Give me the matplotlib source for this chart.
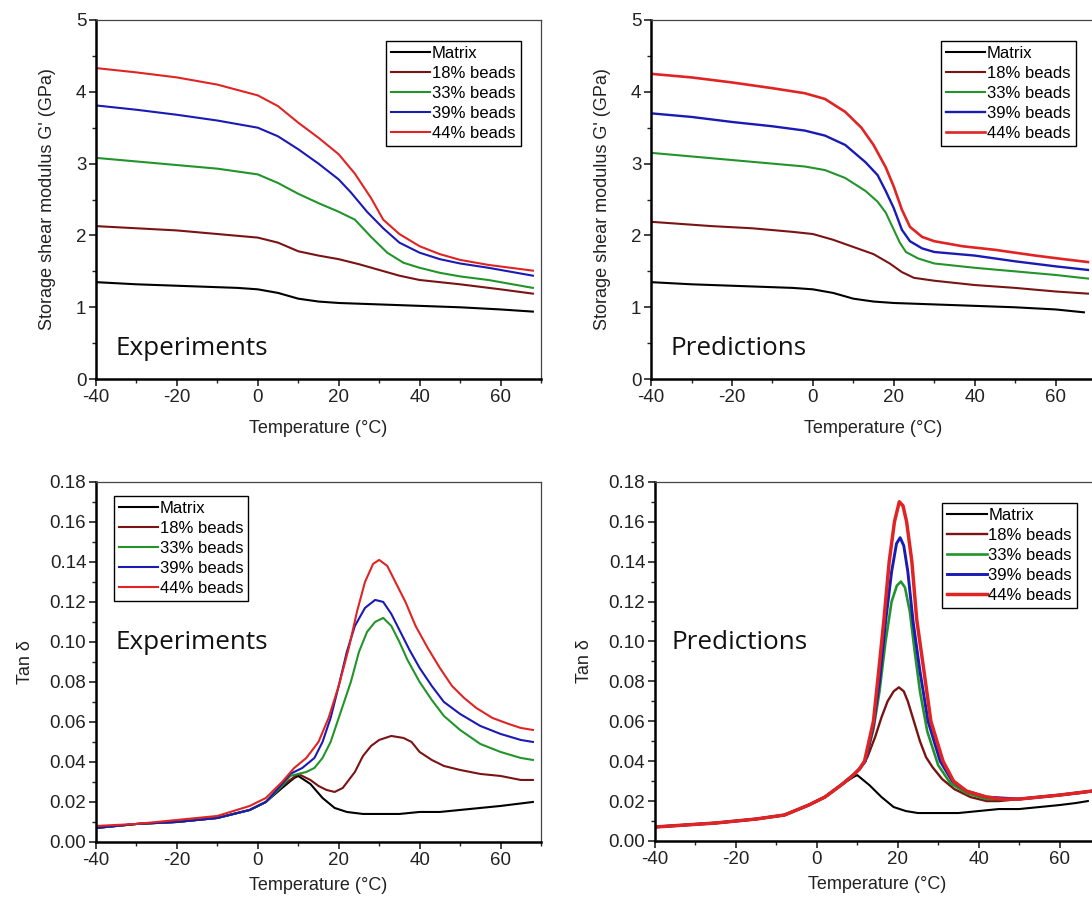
import numpy as np
import matplotlib
matplotlib.use("Agg")
import matplotlib.pyplot as plt
from matplotlib.ticker import MultipleLocator

plt.rcParams['font.family'] = ['Liberation Sans', 'DejaVu Sans']
plt.rcParams['axes.unicode_minus'] = False

labels = ["Matrix", "18% beads", "33% beads", "39% beads", "44% beads"]
colors = ["#000000", "#7a1414", "#22942a", "#1a1ab4", "#e02424"]

# ---- storage modulus, experiments (T in degC, G' in GPa)
ge_t = {
    "Matrix": [-40, -30, -20, -10, -5, 0, 5, 10, 15, 20, 30, 40, 50, 60, 68],
    "18% beads": [-40, -30, -20, -10, 0, 5, 10, 15, 20, 25, 30, 35, 40, 50, 60, 68],
    "33% beads": [-40, -30, -20, -10, 0, 5, 10, 15, 20, 24, 28, 32, 36, 40, 45, 50, 57, 68],
    "39% beads": [-40, -30, -20, -10, 0, 5, 10, 15, 20, 23, 27, 31, 35, 40, 45, 50, 57, 68],
    "44% beads": [-40, -30, -20, -10, 0, 5, 10, 15, 20, 24, 28, 31, 35, 40, 45, 50, 57, 68],
}
ge_v = {
    "Matrix": [1.35, 1.32, 1.30, 1.28, 1.27, 1.25, 1.20, 1.12, 1.08, 1.06, 1.04, 1.02, 1.00, 0.97, 0.94],
    "18% beads": [2.13, 2.10, 2.07, 2.02, 1.97, 1.90, 1.78, 1.72, 1.67, 1.60, 1.52, 1.44, 1.38, 1.32, 1.25, 1.19],
    "33% beads": [3.08, 3.03, 2.98, 2.93, 2.85, 2.73, 2.58, 2.45, 2.33, 2.22, 1.98, 1.76, 1.62, 1.55, 1.48, 1.43, 1.38, 1.27],
    "39% beads": [3.81, 3.75, 3.68, 3.60, 3.50, 3.38, 3.20, 3.00, 2.78, 2.60, 2.33, 2.10, 1.90, 1.76, 1.67, 1.61, 1.55, 1.44],
    "44% beads": [4.33, 4.27, 4.20, 4.10, 3.95, 3.80, 3.57, 3.36, 3.13, 2.86, 2.52, 2.22, 2.02, 1.85, 1.74, 1.66, 1.59, 1.51],
}

# ---- storage modulus, predictions
gp_t = {
    "Matrix": [-40, -30, -20, -10, -5, 0, 5, 10, 15, 20, 30, 40, 50, 60, 67],
    "18% beads": [-40, -25, -15, -5, 0, 5, 10, 15, 19, 22, 25, 30, 40, 50, 60, 68],
    "33% beads": [-40, -30, -20, -10, -2, 3, 8, 13, 16, 18, 20, 21.5, 23, 26, 30, 40, 50, 60, 68],
    "39% beads": [-40, -30, -20, -10, -2, 3, 8, 13, 16, 18, 20, 22, 24, 27, 30, 40, 50, 60, 68],
    "44% beads": [-40, -30, -20, -10, -2, 3, 8, 12, 15, 18, 20, 22, 24, 27, 30, 37, 45, 55, 62, 68],
}
gp_v = {
    "Matrix": [1.35, 1.32, 1.30, 1.28, 1.27, 1.25, 1.20, 1.12, 1.08, 1.06, 1.04, 1.02, 1.00, 0.97, 0.93],
    "18% beads": [2.19, 2.13, 2.10, 2.05, 2.02, 1.94, 1.84, 1.74, 1.61, 1.49, 1.41, 1.37, 1.31, 1.27, 1.22, 1.19],
    "33% beads": [3.15, 3.10, 3.05, 3.00, 2.96, 2.91, 2.80, 2.62, 2.47, 2.32, 2.08, 1.90, 1.77, 1.68, 1.61, 1.55, 1.50, 1.45, 1.40],
    "39% beads": [3.70, 3.65, 3.58, 3.52, 3.46, 3.39, 3.26, 3.02, 2.84, 2.62, 2.38, 2.08, 1.92, 1.82, 1.77, 1.72, 1.64, 1.57, 1.52],
    "44% beads": [4.25, 4.20, 4.13, 4.05, 3.98, 3.90, 3.72, 3.50, 3.26, 2.95, 2.68, 2.36, 2.12, 1.98, 1.92, 1.85, 1.80, 1.72, 1.67, 1.63],
}

# ---- tan delta, experiments
te_t = {
    "Matrix": [-40, -30, -20, -10, -2, 2, 6, 9, 10, 13, 16, 19, 22, 26, 30, 35, 40, 45, 50, 55, 60, 64, 68],
    "18% beads": [-40, -30, -20, -10, -2, 2, 6, 10, 13, 15, 17, 19, 21, 24, 26, 28, 30, 33, 36, 38, 40, 43, 46, 50, 55, 60, 65, 68],
    "33% beads": [-40, -30, -20, -10, -2, 2, 6, 8, 12, 14, 16, 18, 20, 23, 25, 27, 29, 31, 33, 35, 37, 40, 43, 46, 50, 55, 60, 65, 68],
    "39% beads": [-40, -30, -20, -10, -2, 2, 6, 8, 11, 14, 16, 18, 20, 22, 24, 26.5, 29, 31, 33, 35, 37.5, 40, 43, 46, 50, 55, 60, 65, 68],
    "44% beads": [-40, -30, -20, -10, -2, 2, 6, 9, 12, 15, 17.5, 20, 22.5, 24.5, 26.5, 28.5, 30, 32, 34, 36.5, 39, 42, 45, 48, 51, 54, 58, 62, 65, 68],
}
te_v = {
    "Matrix": [0.007, 0.009, 0.010, 0.012, 0.016, 0.020, 0.027, 0.032, 0.033, 0.029, 0.022, 0.017, 0.015, 0.014, 0.014, 0.014, 0.015, 0.015, 0.016, 0.017, 0.018, 0.019, 0.020],
    "18% beads": [0.007, 0.009, 0.010, 0.012, 0.016, 0.020, 0.028, 0.034, 0.031, 0.028, 0.026, 0.025, 0.027, 0.035, 0.043, 0.048, 0.051, 0.053, 0.052, 0.050, 0.045, 0.041, 0.038, 0.036, 0.034, 0.033, 0.031, 0.031],
    "33% beads": [0.007, 0.009, 0.010, 0.012, 0.016, 0.020, 0.028, 0.033, 0.035, 0.037, 0.042, 0.050, 0.062, 0.080, 0.095, 0.105, 0.110, 0.112, 0.108, 0.100, 0.091, 0.080, 0.071, 0.063, 0.056, 0.049, 0.045, 0.042, 0.041],
    "39% beads": [0.007, 0.009, 0.010, 0.012, 0.016, 0.020, 0.029, 0.034, 0.037, 0.042, 0.050, 0.062, 0.078, 0.095, 0.108, 0.117, 0.121, 0.120, 0.114, 0.106, 0.096, 0.087, 0.078, 0.070, 0.064, 0.058, 0.054, 0.051, 0.050],
    "44% beads": [0.008, 0.009, 0.011, 0.013, 0.018, 0.022, 0.030, 0.037, 0.042, 0.050, 0.062, 0.078, 0.097, 0.115, 0.130, 0.139, 0.141, 0.138, 0.130, 0.120, 0.108, 0.097, 0.087, 0.078, 0.072, 0.067, 0.062, 0.059, 0.057, 0.056],
}

# ---- tan delta, predictions
tp_t = {
    "Matrix": [-40, -25, -15, -8, -2, 2, 6, 9, 10, 13, 16, 19, 22, 25, 30, 35, 40, 45, 50, 55, 60, 64, 67],
    "18% beads": [-40, -25, -15, -8, -2, 2, 6, 9, 10.6, 12.5, 14.4, 16, 17.5, 19, 20.3, 21.5, 22.5, 24, 25.5, 27, 28.6, 31, 34, 38, 42, 45, 50, 55, 60, 65, 68],
    "33% beads": [-40, -25, -15, -8, -2, 2, 6, 9, 10.5, 12, 14, 15.5, 17, 18.5, 19.8, 20.8, 21.8, 23, 24.2, 25.5, 27.3, 30, 33, 37, 42, 50, 60, 68],
    "39% beads": [-40, -25, -15, -8, -2, 2, 6, 9, 10.5, 12, 14, 15.5, 17, 18.5, 19.7, 20.6, 21.5, 22.5, 23.8, 25.5, 27.5, 30.5, 33.5, 37, 42, 50, 60, 68],
    "44% beads": [-40, -25, -15, -8, -2, 2, 6, 9, 10.5, 11.8, 14, 15.3, 16.6, 17.9, 19.2, 20.4, 21.3, 22.2, 23.5, 24.7, 26.5, 28.2, 31.2, 33.8, 37, 42, 46, 50, 55, 60, 68],
}
tp_v = {
    "Matrix": [0.007, 0.009, 0.011, 0.013, 0.018, 0.022, 0.028, 0.032, 0.033, 0.028, 0.022, 0.017, 0.015, 0.014, 0.014, 0.014, 0.015, 0.016, 0.016, 0.017, 0.018, 0.019, 0.020],
    "18% beads": [0.007, 0.009, 0.011, 0.013, 0.018, 0.022, 0.028, 0.033, 0.036, 0.042, 0.052, 0.062, 0.070, 0.075, 0.077, 0.075, 0.070, 0.060, 0.050, 0.042, 0.037, 0.031, 0.026, 0.022, 0.020, 0.020, 0.021, 0.022, 0.023, 0.024, 0.025],
    "33% beads": [0.007, 0.009, 0.011, 0.013, 0.018, 0.022, 0.028, 0.033, 0.036, 0.040, 0.056, 0.075, 0.100, 0.120, 0.128, 0.130, 0.127, 0.115, 0.095, 0.075, 0.055, 0.038, 0.029, 0.024, 0.021, 0.021, 0.023, 0.025],
    "39% beads": [0.007, 0.009, 0.011, 0.013, 0.018, 0.022, 0.028, 0.033, 0.036, 0.040, 0.058, 0.080, 0.110, 0.135, 0.149, 0.152, 0.148, 0.135, 0.110, 0.085, 0.060, 0.040, 0.030, 0.025, 0.022, 0.021, 0.023, 0.025],
    "44% beads": [0.007, 0.009, 0.011, 0.013, 0.018, 0.022, 0.028, 0.033, 0.036, 0.040, 0.060, 0.085, 0.111, 0.140, 0.160, 0.170, 0.168, 0.160, 0.140, 0.111, 0.085, 0.060, 0.040, 0.030, 0.025, 0.022, 0.021, 0.021, 0.022, 0.023, 0.025],
}

ylabel_g = "Storage shear modulus G' (GPa)"
ylabel_tan = "Tan \u03b4"
xlabel = "Temperature (\u00b0C)"


def style_axes(ax, ymax, ymajor, yminor, fmt, xpad):
    ax.set_xlim(-40, 70)
    ax.set_ylim(0, ymax)
    ax.xaxis.set_major_locator(MultipleLocator(20))
    ax.xaxis.set_minor_locator(MultipleLocator(10))
    ax.yaxis.set_major_locator(MultipleLocator(ymajor))
    ax.yaxis.set_minor_locator(MultipleLocator(yminor))
    ax.yaxis.set_major_formatter(plt.FuncFormatter(lambda v, p: fmt.format(v)))
    ax.tick_params(which='both', direction='out', top=False, right=False,
                   labelsize=13.5, colors='#222222')
    ax.tick_params(which='major', length=5, width=1.2, pad=2)
    ax.tick_params(which='minor', length=3, width=1.0)
    for s in ['left', 'bottom']:
        ax.spines[s].set_linewidth(1.8)
    for s in ['top', 'right']:
        ax.spines[s].set_linewidth(0.9)
        ax.spines[s].set_color('#444444')
    ax.set_xlabel(xlabel, fontsize=13, color='#222222', labelpad=xpad)


def draw(ax, tdict, vdict, lw_list):
    for lab, col, lw in zip(labels, colors, lw_list):
        ax.plot(tdict[lab], vdict[lab], color=col, lw=lw, label=lab)


def add_legend(ax, anchor):
    leg = ax.legend(loc='upper left', bbox_to_anchor=anchor, fontsize=12,
                    frameon=True, fancybox=False, framealpha=1,
                    edgecolor='black', borderpad=0.3, labelspacing=0.3,
                    handlelength=2.35, handletextpad=0.1, borderaxespad=0)
    leg.get_frame().set_linewidth(1.0)


fig = plt.figure(figsize=(10.92, 9.07), dpi=100)
w = 0.4075
ax1 = fig.add_axes([0.0879, 0.582, w, 0.396])
ax2 = fig.add_axes([0.5962, 0.582, w, 0.396])
ax3 = fig.add_axes([0.0879, 0.0717, w, 0.397])
ax4 = fig.add_axes([0.5998, 0.0728, w, 0.396])

draw(ax1, ge_t, ge_v, [1.5] * 5)
draw(ax2, gp_t, gp_v, [1.5, 1.5, 1.5, 1.7, 1.9])
draw(ax3, te_t, te_v, [1.5] * 5)
draw(ax4, tp_t, tp_v, [1.5, 1.7, 1.9, 2.1, 2.5])

for ax in (ax1, ax2):
    style_axes(ax, 5, 1, 0.5, "{:.0f}", 10)
    ax.set_ylabel(ylabel_g, fontsize=13, color='#222222', labelpad=14)
for ax in (ax3, ax4):
    style_axes(ax, 0.18, 0.02, 0.01, "{:.2f}", 6)
    ax.set_ylabel(ylabel_tan, fontsize=13, color='#222222', labelpad=11)

add_legend(ax1, (0.652, 0.941))
add_legend(ax2, (0.652, 0.941))
add_legend(ax3, (0.0405, 0.961))
add_legend(ax4, (0.646, 0.941))

tfont = dict(fontsize=18.8, family=['Open Sans', 'DejaVu Sans'], va='center', ha='left', color='#111111')
ax1.text(-35.3, 0.43, "Experiments", **tfont)
ax2.text(-35.1, 0.43, "Predictions", **tfont)
ax3.text(-35.3, 0.0995, "Experiments", **tfont)
ax4.text(-36.0, 0.0995, "Predictions", **tfont)

fig.savefig("out.png", dpi=100)
